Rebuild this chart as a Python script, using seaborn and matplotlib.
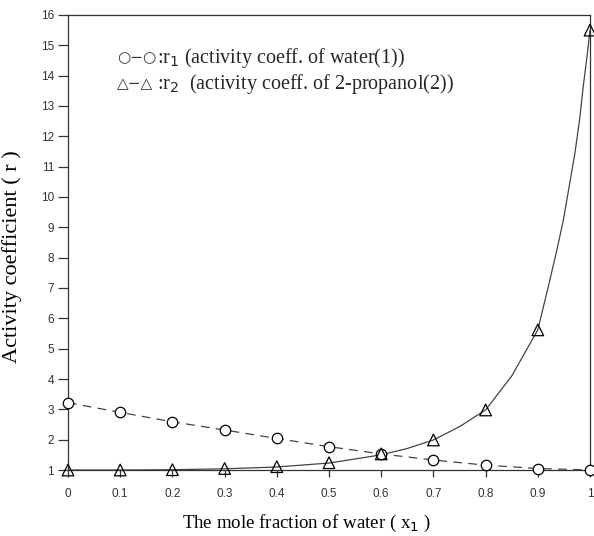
import matplotlib
matplotlib.use("Agg")
import matplotlib.pyplot as plt
import seaborn as sns
import pandas as pd

# ---- data ----
x_frac = [0.0, 0.1, 0.2, 0.3, 0.4, 0.5, 0.6, 0.7, 0.8, 0.9, 1.0]
r1_water = [3.22, 2.90, 2.59, 2.32, 2.04, 1.77, 1.53, 1.33, 1.16, 1.05, 1.00]
r2_propanol = [1.00, 1.00, 1.01, 1.05, 1.11, 1.24, 1.53, 1.99, 2.98, 5.62, 15.5]
# smooth fitted curve for r2
curve_x = [0.0, 0.1, 0.2, 0.3, 0.4, 0.5, 0.6, 0.65, 0.7, 0.75, 0.8, 0.85, 0.9,
           0.92, 0.935, 0.949, 0.96, 0.971, 0.98, 0.987, 0.995, 1.0]
curve_r2 = [1.00, 1.00, 1.01, 1.04, 1.10, 1.23, 1.50, 1.71, 1.99, 2.43, 2.98, 4.10, 5.62,
            7.04, 8.14, 9.24, 10.34, 11.44, 12.54, 13.64, 14.74, 15.5]
x_ticks = [0, 0.1, 0.2, 0.3, 0.4, 0.5, 0.6, 0.7, 0.8, 0.9, 1]
x_ticklabels = ["0", "0.1", "0.2", "0.3", "0.4", "0.5", "0.6", "0.7", "0.8", "0.9", "1"]
y_ticks = list(range(1, 17))

sns.set_theme(style="white")
plt.rcParams["font.family"] = ["Liberation Sans", "DejaVu Sans"]

fig = plt.figure(figsize=(5.94, 5.36), dpi=100)
ax = fig.add_axes([0.1145, 0.1231, 0.8788, 0.849])

df1 = pd.DataFrame({"x": x_frac, "y": r1_water})
df2 = pd.DataFrame({"x": x_frac, "y": r2_propanol})
dfc = pd.DataFrame({"x": curve_x, "y": curve_r2})

line_col = "#444444"
sns.lineplot(data=df1, x="x", y="y", ax=ax, color=line_col, lw=0.9,
             linestyle=(0, (7, 5)), marker="o", markersize=7.5,
             markerfacecolor="white", markeredgecolor="black",
             markeredgewidth=0.9, clip_on=False, zorder=3)
sns.lineplot(data=dfc, x="x", y="y", ax=ax, color=line_col, lw=0.9,
             clip_on=False, zorder=2)
sns.scatterplot(data=df2, x="x", y="y", ax=ax, marker="^", s=70,
                facecolor="none", edgecolor="black", linewidth=0.9,
                clip_on=False, zorder=4)

ax.set_xlim(0, 1)
ax.set_ylim(1, 16)
ax.set_xticks(x_ticks)
ax.set_xticklabels(x_ticklabels)
ax.set_yticks(y_ticks)
ax.tick_params(axis="both", direction="out", width=0.9,
               colors="#333333", labelsize=8.5, bottom=True, left=True)
ax.tick_params(axis="x", length=5, pad=8)
ax.tick_params(axis="y", length=7, pad=3)
for sp in ax.spines.values():
    sp.set_color("#333333")
    sp.set_linewidth(0.9)

ax.set_xlabel("The mole fraction of water ( x$_1$ )", family="Liberation Serif",
              fontsize=13.6, color="black", labelpad=13)
ax.xaxis.set_label_coords(0.456, -0.095)
ax.set_ylabel("Activity coefficient ( r )", family="Liberation Serif",
              fontsize=16, color="black")
ax.yaxis.set_label_coords(-0.088, 0.47)

# legend-like annotations
sym = ["DejaVu Sans"]
fam = ["Liberation Serif", "DejaVu Sans"]
rows = [(0.906, "○−○", ":r$_1$ (activity coeff. of water(1))"),
        (0.849, "△−△", ":r$_2$  (activity coeff. of 2-propanol(2))")]
for ypos, glyphs, label in rows:
    ax.text(0.094, ypos, glyphs, transform=ax.transAxes, family=sym, fontsize=11,
            va="center", ha="left", color="#333333")
    ax.text(0.171, ypos, label, transform=ax.transAxes,
            family=fam, fontsize=14.5, va="center", ha="left")

fig.savefig("out.png", dpi=100)
